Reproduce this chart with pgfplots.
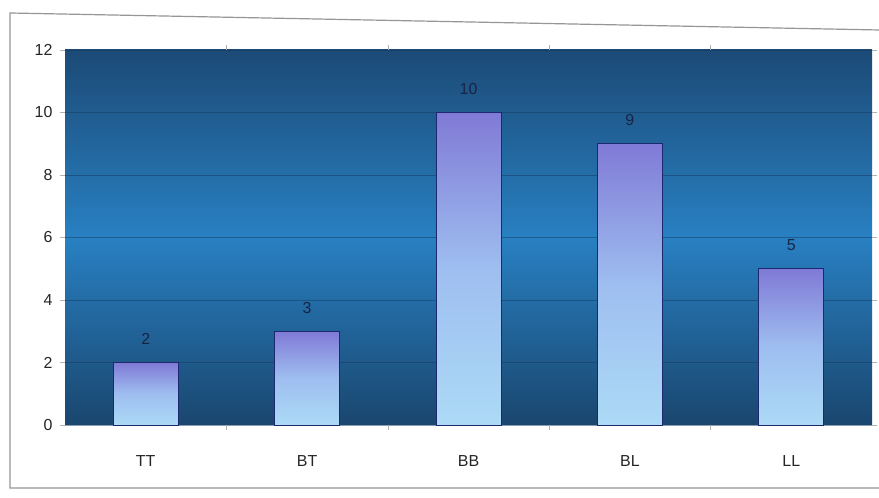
\documentclass[border=0pt]{standalone}
\usepackage{pgfplots}
\pgfplotsset{compat=1.18}
\usepackage{fontspec}
\setmainfont{Liberation Sans}

\definecolor{bgTop}{RGB}{28,74,118}
\definecolor{bgMid}{RGB}{40,128,194}
\definecolor{bgBot}{RGB}{26,70,110}
\definecolor{gridC}{RGB}{22,58,96}
\definecolor{barTop}{RGB}{128,122,214}
\definecolor{barMid}{RGB}{158,190,240}
\definecolor{barBot}{RGB}{172,218,246}
\definecolor{barLine}{RGB}{30,40,110}
\definecolor{lblC}{RGB}{24,36,70}
\definecolor{frameC}{RGB}{150,150,150}

\pgfplotsset{
  shadedbar/.style={ybar, bar width=65bp, bar shift=0pt, draw=barLine, line width=0.8bp,
    top color=barTop, bottom color=barBot, middle color=barMid},
}

\begin{document}
\begin{tikzpicture}[x=1bp,y=1bp]
  % canvas and outer chart frame
  \path[use as bounding box, fill=white] (0,0) rectangle (879,498);
  \draw[frameC, line width=1.2bp] (879,468) -- (10,485) -- (10,10) -- (879,10);

  \begin{axis}[
    at={(65bp,73bp)}, anchor=south west,
    scale only axis,
    width=807bp, height=375bp,
    xmin=-0.5, xmax=4.5,
    ymin=0, ymax=12,
    xtick={0,1,2,3,4},
    xticklabels={TT,BT,BB,BL,LL},
    minor xtick={0.5,1.5,2.5,3.5},
    ytick={0,2,4,6,8,10,12},
    major x tick style={draw=none},
    minor tick length=5bp,
    major tick length=5bp,
    tick align=outside,
    every tick/.style={gray!60, line width=0.6bp},
    /pgf/number format/assume math mode=true,
    tick label style={font=\fontsize{16}{18}\selectfont, text=black!85},
    xticklabel style={yshift=-22bp},
    yticklabel style={xshift=-4bp},
    ymajorgrids,
    major grid style={gridC, line width=0.8bp, opacity=0.5},
    axis line style={draw=none},
    axis background/.style={top color=bgTop, bottom color=bgBot, middle color=bgMid},
    nodes near coords,
    every node near coord/.append style={font=\fontsize{16}{18}\selectfont, text=lblC, yshift=14bp},
    clip=false,
  ]
    % each bar is its own plot so that it carries its own shading
    \addplot[shadedbar] coordinates {(0,2)};
    \addplot[shadedbar] coordinates {(1,3)};
    \addplot[shadedbar] coordinates {(2,10)};
    \addplot[shadedbar] coordinates {(3,9)};
    \addplot[shadedbar] coordinates {(4,5)};
  \end{axis}
\end{tikzpicture}
\end{document}
